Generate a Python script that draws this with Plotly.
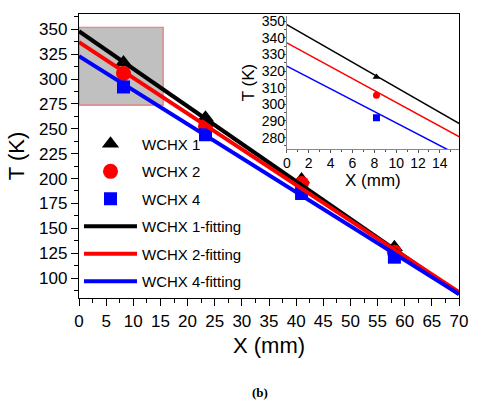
import plotly.graph_objects as go

# ---- data ----
x_pts = [8.2, 23.3, 41.0, 58.1]
wchx1 = [316.5, 261.0, 199.0, 131.0]
wchx2 = [305.5, 252.5, 195.0, 126.0]
wchx4 = [292.0, 244.0, 185.0, 121.0]

x_fit = [0, 70]
fit1 = [348.0, 84.0]
fit2 = [337.0, 86.0]
fit4 = [323.0, 84.0]

zoom_x = [0, 15.5]
zoom_y = [273.7, 352.0]

FONT = "Liberation Sans, Arial, sans-serif"
BLACK, RED, BLUE = "#000000", "#ff0000", "#0000ff"

fig = go.Figure()

markers = [("WCHX 1", wchx1, BLACK, "triangle-up", 15),
           ("WCHX 2", wchx2, RED, "circle", 15),
           ("WCHX 4", wchx4, BLUE, "square", 13)]
fits = [("WCHX 1-fitting", fit1, BLACK),
        ("WCHX 2-fitting", fit2, RED),
        ("WCHX 4-fitting", fit4, BLUE)]

for i, (name, ys, col, sym, sz) in enumerate(markers):
    fig.add_trace(go.Scatter(x=x_pts, y=ys, mode="markers", name=name,
                             legendgroup=f"g{i}",
                             marker=dict(symbol=sym, size=sz, color=col, line=dict(width=0)),
                             xaxis="x", yaxis="y"))
for i, (name, ys, col) in enumerate(fits):
    fig.add_trace(go.Scatter(x=x_fit, y=ys, mode="lines", name=name,
                             legendgroup=f"h{i}",
                             line=dict(color=col, width=4),
                             xaxis="x", yaxis="y"))

# inset traces
for name, ys, col, sym, sz in markers:
    fig.add_trace(go.Scatter(x=[x_pts[0]], y=[ys[0]], mode="markers", showlegend=False,
                             marker=dict(symbol=sym, size=7, color=col, line=dict(width=0)),
                             xaxis="x2", yaxis="y2"))
for name, ys, col in fits:
    fig.add_trace(go.Scatter(x=x_fit, y=ys, mode="lines", showlegend=False,
                             line=dict(color=col, width=1.5),
                             xaxis="x2", yaxis="y2"))

fig.add_shape(type="rect", xref="x", yref="y", x0=zoom_x[0], x1=zoom_x[1],
              y0=zoom_y[0], y1=zoom_y[1], fillcolor="#c0c0c0",
              line=dict(color="#f07070", width=1.2), layer="below")

axis_common = dict(showgrid=False, zeroline=False, linecolor="black", linewidth=1.3,
                   ticks="outside", tickcolor="black", tickwidth=1.2, ticklen=7,
                   tickfont=dict(family=FONT, size=17, color="black"))

fig.update_layout(
    width=479, height=400,
    margin=dict(l=79, r=11, t=13, b=102),
    paper_bgcolor="white", plot_bgcolor="white",
    font=dict(family=FONT, color="black"),
    xaxis=dict(range=[0, 70], dtick=5, tick0=0, mirror=True,
               minor=dict(dtick=2.5, ticks="outside", ticklen=4, tickcolor="black", tickwidth=1),
               title=dict(text="X (mm)", font=dict(family=FONT, size=22), standoff=8),
               **axis_common),
    yaxis=dict(range=[80, 365.3], dtick=25, tick0=0, mirror=True,
               minor=dict(dtick=12.5, ticks="outside", ticklen=4, tickcolor="black", tickwidth=1),
               title=dict(text="T (K)", font=dict(family=FONT, size=22), standoff=8),
               **axis_common),
    xaxis2=dict(domain=[0.547, 1.0], anchor="y2", range=[0, 15.75], dtick=2, tick0=0,
                showgrid=False, zeroline=False, linecolor="#888888", linewidth=1,
                ticks="outside", ticklen=3, tickcolor="#555555", ticklabelstandoff=-2,
                minor=dict(dtick=1, ticks="outside", ticklen=2, tickcolor="#555555"),
                tickfont=dict(family=FONT, size=14, color="black"),
                title=dict(text="X (mm)", font=dict(family=FONT, size=17), standoff=2)),
    yaxis2=dict(domain=[0.525, 0.992], anchor="x2", range=[273.2, 353], dtick=10, tick0=0,
                showgrid=False, zeroline=False, linecolor="#888888", linewidth=1,
                ticks="outside", ticklen=3, tickcolor="#555555", ticklabelstandoff=-5,
                minor=dict(dtick=5, ticks="outside", ticklen=2, tickcolor="#555555"),
                tickfont=dict(family=FONT, size=14, color="black"),
                title=dict(text="T (K)", font=dict(family=FONT, size=17), standoff=2)),
    legend=dict(x=0.0, y=0.60, xanchor="left", yanchor="top",
                bgcolor="rgba(0,0,0,0)", itemwidth=53, tracegroupgap=5,
                font=dict(family=FONT, size=15, color="black")),
    annotations=[dict(text="<b>(b)</b>", xref="paper", yref="paper", x=0.476, y=-0.332,
                      xanchor="center", yanchor="middle", showarrow=False,
                      font=dict(family="Liberation Serif, Times New Roman, serif", size=13))],
)

fig.write_html("out.html")
